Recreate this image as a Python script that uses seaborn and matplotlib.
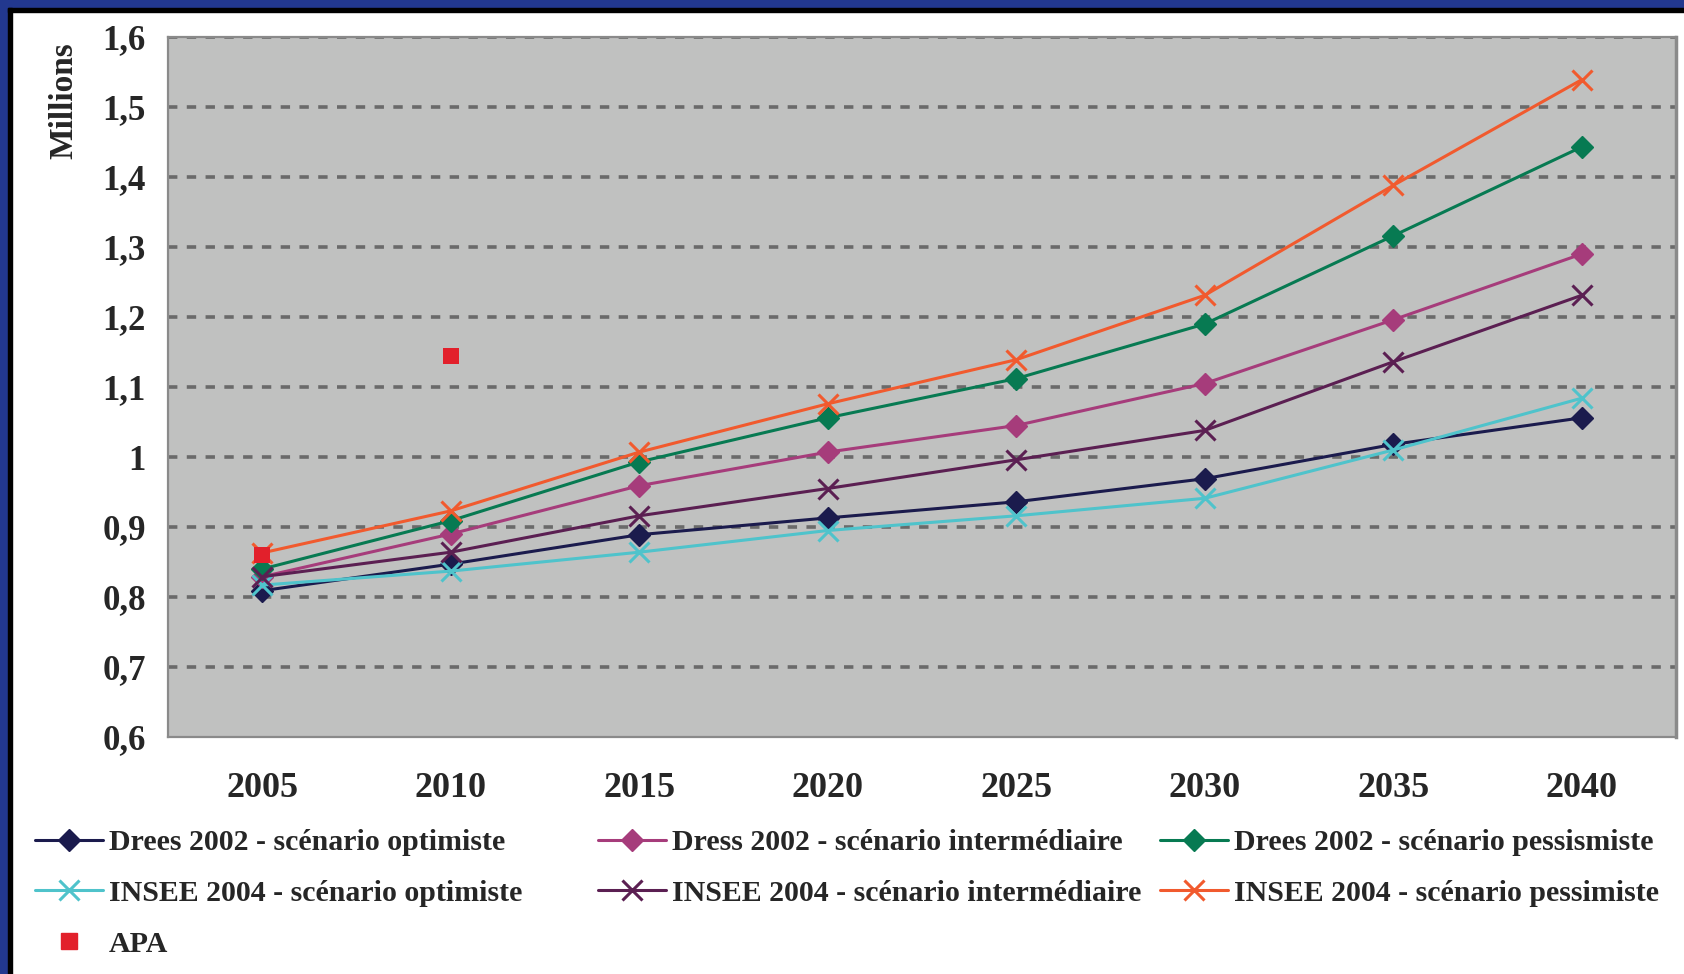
import matplotlib
matplotlib.use("Agg")
import matplotlib.pyplot as plt
from matplotlib.lines import Line2D
from matplotlib.patches import Rectangle
import seaborn as sns
import pandas as pd

years = ["2005", "2010", "2015", "2020", "2025", "2030", "2035", "2040"]
drees_opt = [0.809, 0.847, 0.889, 0.913, 0.936, 0.969, 1.018, 1.056]
drees_int = [0.829, 0.890, 0.959, 1.007, 1.045, 1.105, 1.196, 1.290]
drees_pess = [0.840, 0.909, 0.993, 1.056, 1.112, 1.190, 1.316, 1.443]
insee_opt = [0.817, 0.837, 0.864, 0.895, 0.916, 0.941, 1.010, 1.084]
insee_int = [0.829, 0.864, 0.916, 0.955, 0.996, 1.038, 1.136, 1.231]
insee_pess = [0.863, 0.923, 1.007, 1.076, 1.139, 1.231, 1.388, 1.539]
apa_years = ["2005", "2010"]
apa_values = [0.860, 1.145]

series_names = [
    "Drees 2002 - scénario optimiste",
    "Dress 2002 - scénario intermédiaire",
    "Drees 2002 - scénario pessismiste",
    "INSEE 2004 - scénario optimiste",
    "INSEE 2004 - scénario intermédiaire",
    "INSEE 2004 - scénario pessimiste",
]
apa_name = "APA"
y_ticks = [0.6, 0.7, 0.8, 0.9, 1.0, 1.1, 1.2, 1.3, 1.4, 1.5, 1.6]
y_tick_labels = ["0,6", "0,7", "0,8", "0,9", "1", "1,1", "1,2", "1,3", "1,4", "1,5", "1,6"]
y_label = "Millions"

colors = ["#1b1b4d", "#a63c7b", "#077a52", "#4fc3cb", "#5b1f52", "#f15a2e"]
markers = ["D", "D", "D", "x", "x", "x"]
apa_color = "#e2202b"

series_values = [drees_opt, drees_int, drees_pess, insee_opt, insee_int, insee_pess]
frames = [pd.DataFrame({"year": years, "value": vals}) for vals in series_values]
df_apa = pd.DataFrame({"year": apa_years, "value": apa_values})

sns.set_style("white")
FONT = ["Liberation Serif", "DejaVu Serif"]
plt.rcParams["font.family"] = FONT
plt.rcParams["font.weight"] = "bold"

W, H = 1684, 974
fig = plt.figure(figsize=(W / 100, H / 100), dpi=100)
fig.patch.set_facecolor("white")

# frame decoration (blue band + black line on left and top)
blue = "#22388f"
fig.add_artist(Rectangle((0, 0), 8 / W, 1, transform=fig.transFigure, color=blue, zorder=0))
fig.add_artist(Rectangle((0, 1 - 8 / H), 1, 8 / H, transform=fig.transFigure, color=blue, zorder=0))
fig.add_artist(Rectangle((8 / W, 0), 3.5 / W, 1 - 8 / H, transform=fig.transFigure, color="black", zorder=0))
fig.add_artist(Rectangle((8 / W, 1 - 11.5 / H), 1 - 8 / W, 3.5 / H, transform=fig.transFigure, color="black", zorder=0))

ax = fig.add_axes([168 / W, 1 - 737 / H, (1676 - 168) / W, (737 - 37) / H])
ax.set_facecolor("#c0c1c0")


def style_kw(i):
    if markers[i] == "D":
        return dict(marker="D", markersize=11, markeredgewidth=1, markeredgecolor=colors[i])
    return dict(marker="x", markersize=14, markeredgewidth=2.2, markeredgecolor=colors[i])


for i, d in enumerate(frames):
    sns.lineplot(data=d, x="year", y="value", color=colors[i], linewidth=2.2,
                 sort=False, legend=False, ax=ax, zorder=3, **style_kw(i))

sns.scatterplot(data=df_apa, x="year", y="value", marker="s", color=apa_color,
                s=140, edgecolor=apa_color, linewidth=0, ax=ax, zorder=4, legend=False)

ax.set_xlim(-0.5, len(years) - 0.5)
ax.set_ylim(0.6, 1.6)
ax.set_yticks(y_ticks)
ax.set_yticklabels(y_tick_labels)
ax.set_xticks(range(len(years)))
ax.set_xticklabels(years)
ax.set_xticks([i - 0.5 for i in range(len(years) + 1)], minor=True)
ax.tick_params(axis="x", which="major", length=0, pad=25, labelsize=26)
ax.tick_params(axis="x", which="minor", length=6, width=1.2, color="#808080", direction="out")
ax.tick_params(axis="y", which="major", length=6, width=1.2, color="#808080", direction="out",
               pad=10, labelsize=25)
ax.set_xlabel("")
ax.set_ylabel("")

for y in y_ticks[1:]:
    ax.axhline(y, color="#6a6a6a", lw=2.6, ls=(0, (2.6, 2.6)), zorder=1)

for side in ["left", "bottom", "right", "top"]:
    ax.spines[side].set_visible(True)
    ax.spines[side].set_color("#8a8a8a")
    ax.spines[side].set_linewidth(1.6)
ax.spines["right"].set_linewidth(2.5)

fig.text(64 / W, 1 - 101 / H, y_label, rotation=90, ha="center", va="center",
         fontsize=24, fontweight="bold")


def handle(i):
    return Line2D([], [], color=colors[i], lw=2.2, **style_kw(i))


apa_handle = Line2D([], [], color=apa_color, marker="s", lw=0, markersize=11)

leg_kw = dict(frameon=False, loc="upper left", handlelength=2.27,
              handletextpad=0.2, labelspacing=0.8, borderpad=0, borderaxespad=0,
              prop={"family": FONT, "weight": "bold", "size": 21.5})
top = 1 - 829 / H
fig.legend([handle(0), handle(3), apa_handle],
           [series_names[0], series_names[3], apa_name],
           bbox_to_anchor=(35 / W, top), **leg_kw)
fig.legend([handle(1), handle(4)], [series_names[1], series_names[4]],
           bbox_to_anchor=(598 / W, top), **leg_kw)
fig.legend([handle(2), handle(5)], [series_names[2], series_names[5]],
           bbox_to_anchor=(1160 / W, top), **leg_kw)

fig.savefig("out.png", dpi=100, facecolor="white")
